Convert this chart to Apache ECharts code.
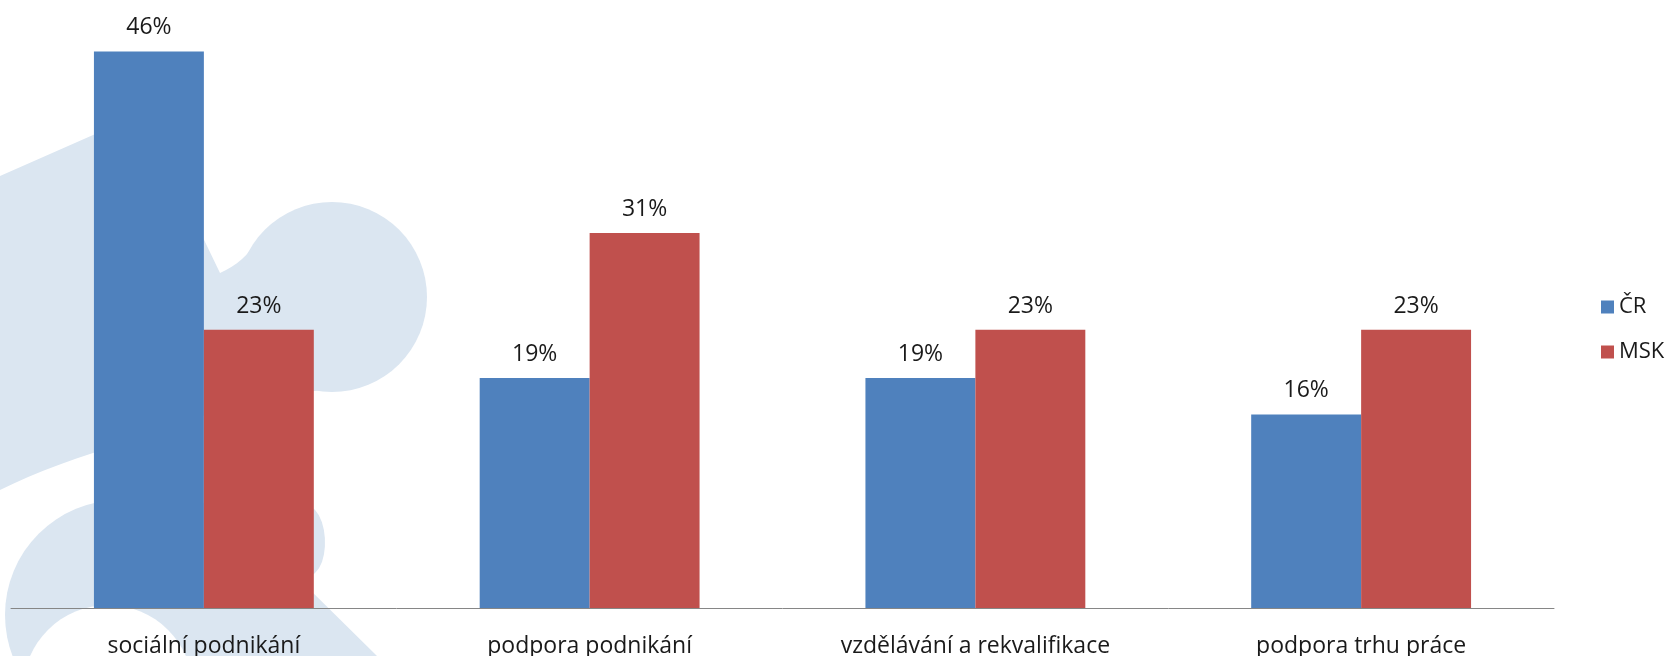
<!DOCTYPE html>
<html>
<head>
<meta charset="utf-8">
<script src="https://cdn.jsdelivr.net/npm/echarts@6/dist/echarts.min.js"></script>
<style>
html,body{margin:0;padding:0;background:#fff;}
#chart{width:1669px;height:656px;}
</style>
</head>
<body>
<div id="chart"></div>
<script>
const categories = ['sociální podnikání', 'podpora podnikání', 'vzdělávání a rekvalifikace', 'podpora trhu práce'];
const seriesNames = ['ČR', 'MSK'];
const valuesCR = [46, 19, 19, 16];
const valuesMSK = [23, 31, 23, 23];

const FONT = '"Open Sans", sans-serif';

// helpers for the decorative watermark outline
function quad(p0, c, p1, n) {
  const out = [];
  for (let i = 1; i <= n; i++) {
    const t = i / n, u = 1 - t;
    out.push([u*u*p0[0] + 2*u*t*c[0] + t*t*p1[0], u*u*p0[1] + 2*u*t*c[1] + t*t*p1[1]]);
  }
  return out;
}
function cubic(p0, c1, c2, p1, n) {
  const out = [];
  for (let i = 1; i <= n; i++) {
    const t = i / n, u = 1 - t;
    out.push([
      u*u*u*p0[0] + 3*u*u*t*c1[0] + 3*u*t*t*c2[0] + t*t*t*p1[0],
      u*u*u*p0[1] + 3*u*u*t*c1[1] + 3*u*t*t*c2[1] + t*t*t*p1[1]
    ]);
  }
  return out;
}
const shapeA = [[0,176],[143,113],[220,273]]
  .concat(quad([220,273],[245,262],[257,240],8))
  .concat([[300,300],[320,390]])
  .concat(quad([320,390],[200,410],[93,453],10))
  .concat(quad([93,453],[40,470],[0,490],6));
const shapeB = [[95,500],[310,506]]
  .concat(cubic([310,506],[328,515],[330,560],[315,573],10))
  .concat([[303,583],[377,656],[200,656],[200,560],[120,560]]);

const chart = echarts.init(document.getElementById('chart'));
const wm = '#dbe6f1';
chart.setOption({
  animation: false,
  backgroundColor: '#ffffff',
  graphic: [
    { type: 'polygon', z: -10, silent: true, shape: { points: shapeA }, style: { fill: wm } },
    { type: 'circle', z: -10, silent: true, shape: { cx: 332, cy: 297, r: 95 }, style: { fill: wm } },
    { type: 'circle', z: -10, silent: true, shape: { cx: 120, cy: 615, r: 115 }, style: { fill: wm } },
    { type: 'polygon', z: -10, silent: true, shape: { points: shapeB }, style: { fill: wm } },
    { type: 'circle', z: -9, silent: true, shape: { cx: 108, cy: 690, r: 85 }, style: { fill: '#ffffff' } }
  ],
  legend: {
    orient: 'vertical',
    left: 1596,
    top: 291,
    itemWidth: 13,
    itemHeight: 13,
    itemGap: 23,
    icon: 'rect',
    textStyle: { fontFamily: FONT, fontSize: 22, color: '#1a1a1a' },
    data: seriesNames
  },
  grid: { left: 11, right: 115, top: 3, bottom: 48, containLabel: false, outerBoundsMode: 'none' },
  xAxis: {
    type: 'category',
    data: categories,
    axisLine: { lineStyle: { color: '#868686', width: 1 } },
    axisTick: { show: false },
    axisLabel: { fontFamily: FONT, fontSize: 23, color: '#1a1a1a', margin: 27 }
  },
  yAxis: {
    type: 'value',
    min: 0,
    max: 50,
    show: false,
    splitLine: { show: false }
  },
  series: [
    { name: seriesNames[0], type: 'bar', data: valuesCR, barGap: '0%', barCategoryGap: '43%',
      itemStyle: { color: '#4f81bd' },
      label: { show: true, position: 'top', distance: 12, formatter: '{c}%', fontFamily: FONT, fontSize: 23, color: '#1a1a1a' } },
    { name: seriesNames[1], type: 'bar', data: valuesMSK, barGap: '0%', barCategoryGap: '43%',
      itemStyle: { color: '#c0504d' },
      label: { show: true, position: 'top', distance: 12, formatter: '{c}%', fontFamily: FONT, fontSize: 23, color: '#1a1a1a' } }
  ]
});
</script>
</body>
</html>
